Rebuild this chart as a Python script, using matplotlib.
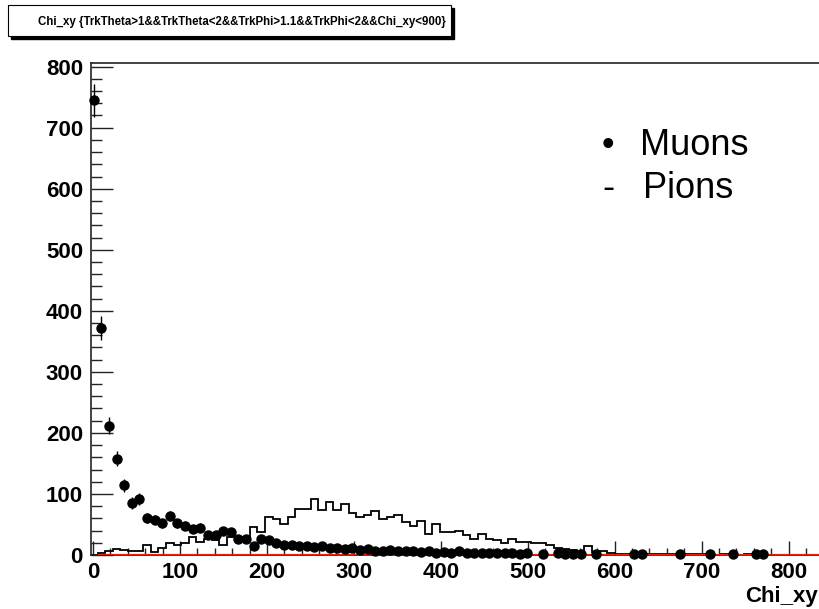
import numpy as np
import matplotlib
matplotlib.use("Agg")
import matplotlib.pyplot as plt
from matplotlib.patches import Rectangle
from matplotlib.ticker import MultipleLocator

plt.rcParams['font.family'] = ['Liberation Sans', 'DejaVu Sans']

# binning of the histograms (100 bins, auto range)
bin_lo = -3.5
bin_w = 8.75

# muon counts per bin (points with sqrt(N) errors)
muons = [745, 372, 212, 158, 114, 85, 92, 61, 58, 52,
         64, 52, 48, 42, 45, 33, 33, 40, 38, 27,
         27, 15, 27, 24, 20, 17, 16, 14, 15, 13,
         15, 12, 11, 10, 11, 9, 10, 7, 6, 8,
         7, 6, 7, 5, 6, 4, 5, 3, 6, 4,
         3, 4, 3, 3, 4, 3, 2, 3, 0, 2,
         0, 3, 2, 2, 1, 0, 2, 0, 0, 0,
         0, 1, 1, 0, 0, 0, 0, 1, 0, 0,
         0, 1, 0, 0, 1, 0, 0, 1, 1, 0,
         0, 0, 0, 0, 0, 0, 0, 0, 0, 0]

# pion counts per bin (open histogram)
pions = [0, 3, 7, 10, 9, 7, 7, 17, 5, 11,
         20, 16, 20, 29, 22, 26, 25, 16, 29, 29,
         30, 46, 38, 62, 59, 51, 63, 76, 75, 92,
         73, 87, 74, 83, 69, 62, 65, 72, 59, 62,
         65, 54, 47, 56, 34, 50, 37, 38, 39, 33,
         26, 35, 27, 25, 19, 27, 22, 22, 19, 19,
         16, 11, 10, 8, 7, 14, 5, 7, 4, 2,
         2, 2, 1, 2, 1, 1, 2, 1, 1, 2,
         1, 1, 0, 1, 1, 0, 1, 0, 0, 0,
         0, 0, 0, 0, 0, 0, 0, 0, 0, 0]

# third (red) histogram, empty over its range
red_range = (6, 835)

title = "Chi_xy {TrkTheta>1&&TrkTheta<2&&TrkPhi>1.1&&TrkPhi<2&&Chi_xy<900}"
xlabel = "Chi_xy"
legend_items = [("\u2022", "Muons"), ("-", "Pions")]

W, H = 819, 609


def px(x, y):
    return x / W, 1 - y / H


fig = plt.figure(figsize=(W / 100, H / 100), dpi=100)
ax = fig.add_axes([91.3 / W, 1 - 555 / H, (W - 91.3) / W, (555 - 63) / H])

muons = np.array(muons, dtype=float)
pions = np.array(pions, dtype=float)
edges = bin_lo + bin_w * np.arange(len(pions) + 1)
centers = 0.5 * (edges[:-1] + edges[1:])

ax.stairs(pions, edges, color='black', lw=1.3, zorder=2)
ax.hlines(0, red_range[0], red_range[1], color='#e8200c', lw=1.6, zorder=3)

m = muons > 0
ax.errorbar(centers[m], muons[m], yerr=np.sqrt(muons[m]), fmt='o', color='black',
            ms=6.5, elinewidth=1, capsize=0, zorder=4, clip_on=False)

ax.set_xlim(-2, 835)
ax.set_ylim(0, 806)

ax.xaxis.set_major_locator(MultipleLocator(100))
ax.xaxis.set_minor_locator(MultipleLocator(20))
ax.yaxis.set_major_locator(MultipleLocator(100))
ax.yaxis.set_minor_locator(MultipleLocator(20))
ax.tick_params(axis='x', which='major', direction='in', length=10, width=1, pad=5,
               labelsize=16, color='#222222')
ax.tick_params(axis='x', which='minor', direction='in', length=5, width=1, color='#222222')
ax.tick_params(axis='y', which='major', direction='in', length=16, width=1, pad=6,
               labelsize=16, color='#222222')
ax.tick_params(axis='y', which='minor', direction='in', length=8, width=1, color='#222222')
for lab in ax.get_xticklabels() + ax.get_yticklabels():
    lab.set_fontweight('bold')

ax.spines['right'].set_visible(False)
for s in ['left', 'bottom', 'top']:
    ax.spines[s].set_linewidth(1.2)
    ax.spines[s].set_color('#222222')

# axis title, right aligned at the end of the axis
fig.text(*px(W - 1, 602), xlabel, ha='right', va='baseline', fontsize=16,
         fontweight='bold')

# title box with shadow
bx0, by0, bx1, by1 = 8, 5, 451, 36
fig.add_artist(Rectangle(px(bx0 + 3, by1 + 3), (bx1 - bx0) / W, (by1 - by0) / H,
                         transform=fig.transFigure, facecolor='black', edgecolor='black'))
fig.add_artist(Rectangle(px(bx0, by1), (bx1 - bx0) / W, (by1 - by0) / H,
                         transform=fig.transFigure, facecolor='white', edgecolor='black',
                         lw=0.8))
fig.text(*px(38, (by0 + by1) / 2 + 1), title, ha='left', va='center',
         fontsize=8.3, fontweight='bold')

# hand drawn legend
for i, (sym, name) in enumerate(legend_items):
    base = 155 + i * 43
    fig.text(*px(608, base), sym, ha='center', va='baseline', fontsize=26)
    fig.text(*px(640 + i * 3, base), name, ha='left', va='baseline', fontsize=26)

fig.savefig('out.png', dpi=100)
